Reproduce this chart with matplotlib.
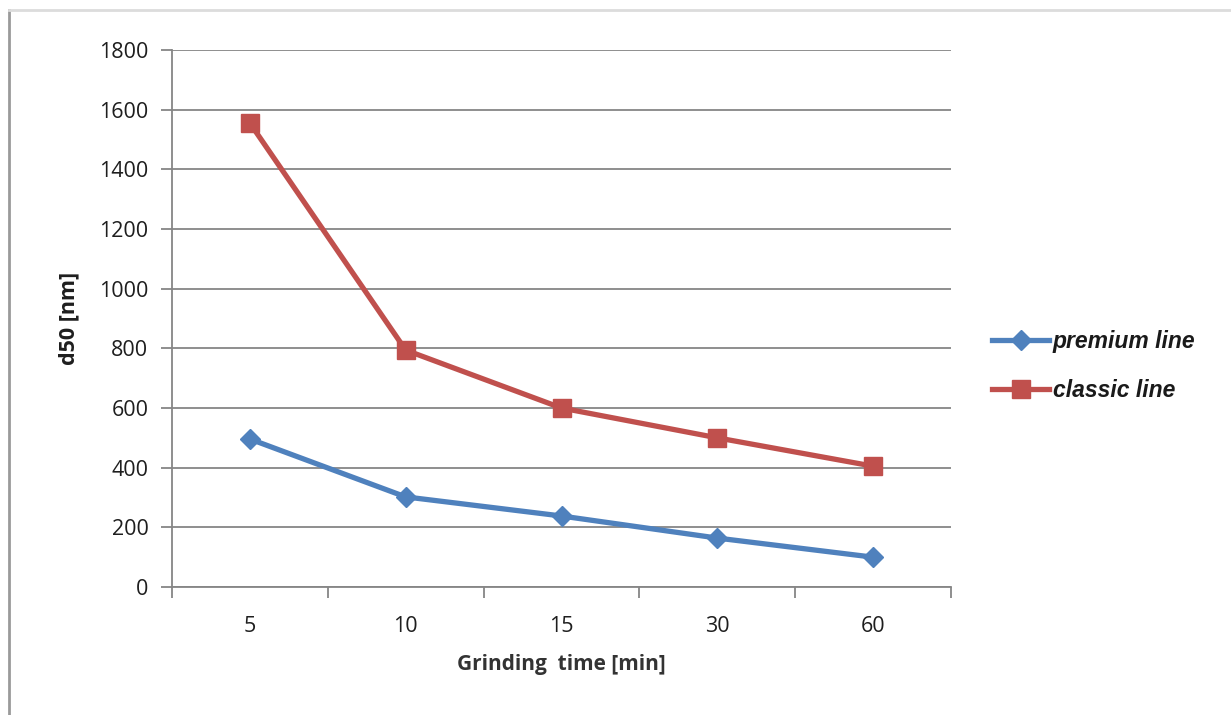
import matplotlib
matplotlib.use("Agg")
import matplotlib.pyplot as plt
from matplotlib.lines import Line2D
import numpy as np

categories = ["5", "10", "15", "30", "60"]
premium = [496, 302, 238, 164, 100]
classic = [1555, 794, 600, 500, 405]
yticks = [0, 200, 400, 600, 800, 1000, 1200, 1400, 1600, 1800]

BLUE = "#4F81BD"
RED = "#C0504D"
GRID = "#868686"

fig = plt.figure(figsize=(12.31, 7.15), dpi=100)
fig.patch.set_facecolor("white")

# outer frame
fig.add_artist(Line2D([9/1231, 9/1231], [0, 1 - 10/715], transform=fig.transFigure, color="#9a9a9a", lw=2))
fig.add_artist(Line2D([9/1231, 1], [1 - 10/715, 1 - 10/715], transform=fig.transFigure, color="#dcdcdc", lw=2))

ax = fig.add_axes([172/1231, 1 - 587/715, (951 - 172)/1231, (587 - 50)/715])
x = np.arange(len(categories))

ax.plot(x, premium, color=BLUE, lw=3.8, marker="D", markersize=10, markeredgecolor=BLUE, label="premium line", zorder=3)
ax.plot(x, classic, color=RED, lw=3.8, marker="s", markersize=13, markeredgecolor=RED, label="classic line", zorder=3)

ax.set_xlim(-0.5, len(categories) - 0.5)
ax.set_ylim(0, 1800)
ax.set_yticks(yticks)
ax.set_yticklabels([str(v) for v in yticks], fontsize=15.5, color="#1e1e1e", family="Open Sans")
ax.yaxis.grid(True, color=GRID, lw=1.3)
ax.set_axisbelow(True)

ax.set_xticks(x)
ax.set_xticklabels(categories, fontsize=15.5, color="#1e1e1e", family="Open Sans")
ax.set_xticks(np.arange(-0.5, len(categories)), minor=True)
ax.tick_params(axis="x", which="major", length=0, pad=21)
ax.tick_params(axis="x", which="minor", length=8, color=GRID, width=1.3)
ax.tick_params(axis="y", length=8, color=GRID, width=1.3, pad=9)

for s in ["top", "right"]:
    ax.spines[s].set_visible(False)
for s in ["left", "bottom"]:
    ax.spines[s].set_color(GRID)
    ax.spines[s].set_linewidth(1.3)

ax.set_xlabel("Grinding  time [min]", fontsize=15, fontweight="bold", color="#333333", family="Open Sans", labelpad=12)
ax.set_ylabel("d50 [nm]", fontsize=15.5, fontweight="bold", color="#1e1e1e", family="Open Sans", labelpad=14)

leg = ax.legend(loc="center left", bbox_to_anchor=(1.026, 0.412), frameon=False,
                prop={"family": "Liberation Sans", "weight": "bold", "style": "italic", "size": 16.5},
                handlelength=2.5, handletextpad=0.15, labelspacing=1.15, labelcolor="#1a1a1a")

fig.savefig("out.png", dpi=100, facecolor="white")
